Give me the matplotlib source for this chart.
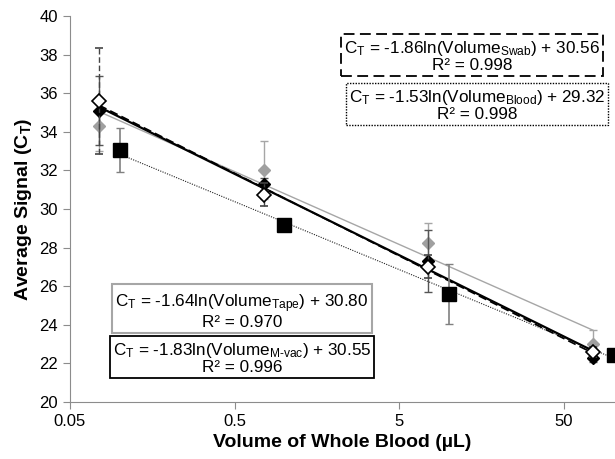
import matplotlib
matplotlib.use("Agg")
import matplotlib.pyplot as plt
import numpy as np

plt.rcParams['font.family'] = ['Liberation Sans', 'DejaVu Sans']
plt.rcParams['mathtext.fontset'] = 'custom'
plt.rcParams['mathtext.rm'] = 'Liberation Sans'
plt.rcParams['mathtext.it'] = 'Liberation Sans'
plt.rcParams['mathtext.bf'] = 'Liberation Sans:bold'

# ---- data ----
vol_a = [0.075, 0.75, 7.5, 75]      # Swab, Tape, M-vac
vol_b = [0.1, 1, 10, 100]           # Blood

swab_ct = [35.6, 30.75, 27.0, 22.6]
swab_err = [2.75, 0.6, 0.6, 0.25]
mvac_ct = [35.1, 31.3, 27.3, 22.3]
mvac_err = [1.8, 0.3, 1.6, 0.25]
tape_ct = [34.3, 32.0, 28.25, 23.0]
tape_err = [1.3, 1.5, 1.05, 0.75]
blood_ct = [33.05, 29.15, 25.6, 22.45]
blood_err = [1.15, 0.2, 1.55, 0.3]

# fit equations: slope, intercept, r2
swab_fit = (-1.86, 30.56, 0.998)
blood_fit = (-1.53, 29.32, 0.998)
tape_fit = (-1.64, 30.80, 0.970)
mvac_fit = (-1.83, 30.55, 0.996)

x_ticks = [0.05, 0.5, 5, 50]
x_tick_labels = ['0.05', '0.5', '5', '50']
y_ticks = list(range(20, 41, 2))

fig = plt.figure(figsize=(6.15, 4.59), dpi=100)
ax = fig.add_axes([70/615, 1-402/459, 1-70/615, (402-16)/459])
ax.set_xscale('log')
ax.set_xlim(0.05, 102)
ax.set_ylim(20, 40)

def fitline(x, fit):
    xs = np.array([min(x), max(x)])
    return xs, fit[0]*np.log(xs) + fit[1]

# trend lines
xs, ys = fitline(vol_a, tape_fit)
ax.plot(xs, ys, color='#a6a6a6', lw=1.0, zorder=2)
xs, ys = fitline(vol_b, blood_fit)
ax.plot(xs, ys, color='#222222', lw=0.8, ls=(0, (1, 1.2)), zorder=2)
xs, ys = fitline(vol_a, mvac_fit)
ax.plot(xs, ys, color='black', lw=1.6, zorder=3)
xs, ys = fitline(vol_a, swab_fit)
ax.plot(xs, ys, color='black', lw=1.2, ls=(0, (5, 2.5)), zorder=3)

# error bars + markers
eb = ax.errorbar(vol_a, tape_ct, yerr=tape_err, fmt='D', color='#a0a0a0', ms=6.5,
                 mec='#a0a0a0', ecolor='#a6a6a6', elinewidth=1.0, capsize=3, zorder=4)
eb = ax.errorbar(vol_b, blood_ct, yerr=blood_err, fmt='s', color='black', ms=9.5,
                 ecolor='#808080', elinewidth=1.2, capsize=3, zorder=4)
eb = ax.errorbar(vol_a, mvac_ct, yerr=mvac_err, fmt='D', color='black', ms=6.5,
                 ecolor='#555555', elinewidth=1.0, capsize=3, zorder=5)
eb = ax.errorbar(vol_a, swab_ct, yerr=swab_err, fmt='D', mfc='white', mec='black', ms=7.5,
                 mew=1.2, ecolor='#444444', elinewidth=1.0, capsize=3, zorder=6)
eb[2][0].set_linestyle((0, (4, 2)))

# axes styling
for s in ['top', 'right']:
    ax.spines[s].set_visible(False)
for s in ['left', 'bottom']:
    ax.spines[s].set_color('#8c8c8c')
ax.set_xticks(x_ticks)
ax.set_xticklabels(x_tick_labels)
ax.xaxis.set_minor_locator(matplotlib.ticker.NullLocator())
ax.set_yticks(y_ticks)
ax.tick_params(axis='both', colors='#8c8c8c', labelcolor='black', labelsize=12, length=5)
ax.tick_params(axis='x', pad=4)

ax.set_xlabel('Volume of Whole Blood (µL)', fontsize=14, fontweight='bold', labelpad=3)
ax.set_ylabel(r'Average Signal (C$_\mathbf{T}$)', fontsize=14, fontweight='bold', labelpad=4)

def eqn(fit, name):
    return (r'C$_\mathregular{T}$ = %.2fln(Volume$_\text{%s}$) + %.2f' % (fit[0], name, fit[1])
            + '\nR² = %.3f' % fit[2])

def box(xc, yc, text, ls, ec, lw):
    t = fig.text(xc/615, 1-yc/459, text, ha='center', va='center', fontsize=12.3,
                 linespacing=1.0,
                 bbox=dict(boxstyle='square,pad=0.18', fc='white', ec=ec, lw=lw, ls=ls))
    return t

box(472, 56, eqn(swab_fit, 'Swab'), (0, (6, 3)), 'black', 1.3)
box(477, 105, eqn(blood_fit, 'Blood'), (0, (1, 1)), 'black', 1.0)
box(242, 311, eqn(tape_fit, 'Tape'), '-', '#a6a6a6', 1.5)
box(242, 358, eqn(mvac_fit, 'M-vac'), '-', 'black', 1.3)

fig.savefig('out.png', dpi=100)
